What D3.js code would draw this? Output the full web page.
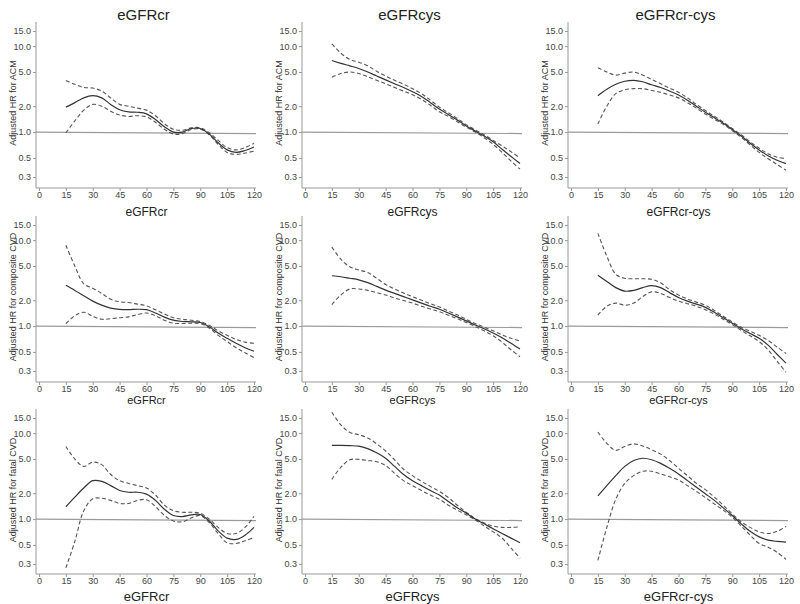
<!DOCTYPE html>
<html><head><meta charset="utf-8">
<script src="https://cdn.jsdelivr.net/npm/d3@7"></script>
<style>body{margin:0;background:#fff}svg{display:block}</style>
</head><body><svg id="c" width="800" height="604"></svg>
<script>
const xGrid = [15,20,25,30,35,40,45,50,55,60,65,70,75,80,85,90,95,100,105,110,115,120];
const xTicks = [0,15,30,45,60,75,90,105,120];
const yTicks = [0.3,0.5,1.0,2.0,5.0,10.0,15.0];
const colNames = ["eGFRcr","eGFRcys","eGFRcr-cys"];
const outcomes = ["ACM","composite CVD","fatal CVD"];

// Row 1: ACM
const acmCrMid = [1.95,2.2,2.5,2.65,2.5,2.1,1.82,1.72,1.7,1.63,1.4,1.15,1.0,1.0,1.1,1.1,0.95,0.75,0.62,0.58,0.61,0.67];
const acmCrHi  = [3.97,3.6,3.3,3.25,3.0,2.5,2.1,2.0,1.9,1.8,1.55,1.25,1.08,1.05,1.12,1.12,0.98,0.8,0.66,0.62,0.66,0.74];
const acmCrLo  = [0.98,1.35,1.8,2.1,2.0,1.75,1.58,1.52,1.55,1.5,1.3,1.08,0.95,0.96,1.07,1.08,0.93,0.72,0.58,0.55,0.57,0.6];
const acmCysMid = [6.8,6.3,5.9,5.5,5.0,4.5,4.05,3.65,3.3,2.95,2.6,2.2,1.85,1.6,1.38,1.18,1.03,0.9,0.77,0.63,0.52,0.43];
const acmCysHi  = [10.6,8.3,7.0,6.5,5.9,5.1,4.5,4.0,3.6,3.2,2.8,2.35,1.95,1.68,1.44,1.22,1.06,0.93,0.8,0.69,0.59,0.5];
const acmCysLo  = [4.35,4.8,5.0,4.8,4.4,4.0,3.65,3.3,3.0,2.72,2.4,2.05,1.72,1.52,1.32,1.14,1.0,0.86,0.72,0.58,0.46,0.37];
const acmCrCysMid = [2.65,3.15,3.6,3.9,4.0,3.85,3.55,3.3,3.0,2.7,2.35,2.0,1.7,1.47,1.27,1.07,0.9,0.74,0.62,0.53,0.47,0.43];
const acmCrCysHi  = [5.6,5.0,4.6,4.85,5.0,4.6,4.1,3.65,3.25,2.9,2.5,2.1,1.78,1.53,1.31,1.1,0.93,0.77,0.65,0.56,0.51,0.49];
const acmCrCysLo  = [1.24,2.0,2.8,3.1,3.2,3.2,3.05,2.9,2.7,2.5,2.2,1.9,1.62,1.41,1.23,1.04,0.87,0.71,0.58,0.49,0.42,0.36];
// Row 2: composite CVD
const compCrMid = [2.98,2.6,2.25,1.95,1.75,1.62,1.56,1.55,1.57,1.55,1.42,1.27,1.17,1.13,1.12,1.1,0.98,0.83,0.72,0.63,0.56,0.51];
const compCrHi  = [8.7,5.0,3.1,2.75,2.4,2.05,1.92,1.88,1.8,1.72,1.55,1.38,1.25,1.2,1.17,1.13,1.02,0.88,0.78,0.7,0.65,0.63];
const compCrLo  = [1.07,1.32,1.45,1.3,1.2,1.22,1.25,1.28,1.36,1.42,1.32,1.17,1.08,1.07,1.08,1.07,0.95,0.78,0.66,0.56,0.49,0.43];
const compCysMid = [3.85,3.75,3.6,3.45,3.2,2.9,2.62,2.4,2.2,2.02,1.85,1.7,1.57,1.42,1.28,1.15,1.03,0.93,0.83,0.73,0.63,0.54];
const compCysHi  = [8.3,6.0,4.9,4.5,4.2,3.6,3.05,2.7,2.42,2.2,2.0,1.82,1.67,1.5,1.35,1.2,1.07,0.97,0.88,0.79,0.72,0.67];
const compCysLo  = [1.78,2.3,2.7,2.7,2.6,2.45,2.3,2.12,1.98,1.85,1.7,1.58,1.47,1.34,1.22,1.1,0.99,0.88,0.77,0.65,0.53,0.44];
const compCrCysMid = [3.9,3.3,2.8,2.55,2.6,2.8,2.95,2.8,2.45,2.15,1.95,1.8,1.65,1.45,1.25,1.08,0.93,0.82,0.72,0.6,0.47,0.37];
const compCrCysHi  = [12.0,6.5,4.0,3.6,3.55,3.55,3.5,3.2,2.65,2.3,2.07,1.9,1.75,1.52,1.3,1.12,0.97,0.87,0.78,0.68,0.57,0.48];
const compCrCysLo  = [1.34,1.7,1.85,1.75,1.85,2.2,2.5,2.4,2.15,1.95,1.82,1.7,1.55,1.38,1.2,1.04,0.89,0.77,0.66,0.53,0.39,0.29];
// Row 3: fatal CVD
const fatalCrMid = [1.39,1.8,2.3,2.8,2.75,2.45,2.15,2.05,2.05,1.95,1.65,1.3,1.1,1.07,1.12,1.13,0.95,0.73,0.6,0.58,0.65,0.8];
const fatalCrHi  = [7.0,5.0,4.1,4.6,4.3,3.3,2.8,2.6,2.45,2.3,1.9,1.45,1.25,1.2,1.2,1.17,1.0,0.8,0.68,0.68,0.8,1.08];
const fatalCrLo  = [0.27,0.55,1.25,1.72,1.75,1.65,1.52,1.52,1.65,1.68,1.4,1.1,0.95,0.93,1.03,1.1,0.91,0.68,0.53,0.52,0.56,0.61];
const fatalCysMid = [7.2,7.2,7.15,7.05,6.6,5.9,5.1,4.1,3.3,2.8,2.45,2.15,1.9,1.6,1.35,1.17,1.0,0.88,0.77,0.68,0.6,0.53];
const fatalCysHi  = [17.5,12.5,10.2,9.6,8.8,7.5,6.2,4.9,3.8,3.2,2.75,2.4,2.1,1.78,1.45,1.2,1.02,0.9,0.83,0.8,0.8,0.81];
const fatalCysLo  = [2.9,4.0,4.9,4.95,4.8,4.65,4.2,3.4,2.8,2.45,2.15,1.9,1.7,1.45,1.27,1.12,0.98,0.83,0.71,0.6,0.46,0.35];
const fatalCrCysMid = [1.86,2.45,3.2,4.1,4.8,5.1,4.9,4.45,3.9,3.35,2.8,2.35,1.97,1.65,1.35,1.1,0.88,0.72,0.62,0.57,0.55,0.54];
const fatalCrCysHi  = [10.3,7.6,6.3,7.0,7.5,7.1,6.4,5.7,4.8,3.9,3.2,2.6,2.2,1.8,1.45,1.15,0.93,0.8,0.71,0.68,0.72,0.82];
const fatalCrCysLo  = [0.33,0.8,1.7,2.6,3.2,3.6,3.6,3.35,3.1,2.85,2.45,2.1,1.78,1.5,1.27,1.05,0.83,0.65,0.52,0.47,0.41,0.34];

const panels = [
  [[acmCrMid,acmCrHi,acmCrLo],[acmCysMid,acmCysHi,acmCysLo],[acmCrCysMid,acmCrCysHi,acmCrCysLo]],
  [[compCrMid,compCrHi,compCrLo],[compCysMid,compCysHi,compCysLo],[compCrCysMid,compCrCysHi,compCrCysLo]],
  [[fatalCrMid,fatalCrHi,fatalCrLo],[fatalCysMid,fatalCysHi,fatalCysLo],[fatalCrCysMid,fatalCrCysHi,fatalCrCysLo]]
];

const svg = d3.select("#c");
const colX0 = [39, 305, 571];
const rowTop = [31, 225, 418];
const axisOff = [157, 157, 156];
const plotW = 215, plotH = 146;
const font = "Arial, 'Liberation Sans', sans-serif";
const xLabelSize = [12, 11, 13];
const xLabelY = [216, 404, 601];

for (let r = 0; r < 3; r++) {
  for (let c = 0; c < 3; c++) {
    const x0 = colX0[c], top = rowTop[r];
    const x = d3.scaleLinear().domain([0,120]).range([x0, x0+plotW]);
    const y = d3.scaleLog().domain([0.3,15]).range([top+plotH, top]);
    const g = svg.append("g");
    const axisY = top + axisOff[r];
    g.append("line").attr("x1", x0-3).attr("x2", x0-3).attr("y1", top-9).attr("y2", axisY)
      .attr("stroke", "#999").attr("stroke-width", 1);
    g.append("line").attr("x1", x0-3).attr("x2", x0+plotW+2).attr("y1", axisY).attr("y2", axisY)
      .attr("stroke", "#999").attr("stroke-width", 1);
    const xa = d3.axisBottom(x).tickValues(xTicks).tickSize(3).tickPadding(1).tickFormat(d3.format("d"));
    const gx = g.append("g").attr("transform", `translate(0,${axisY})`).call(xa);
    gx.select(".domain").remove();
    gx.selectAll("line").attr("stroke", "#999");
    gx.selectAll("text").attr("fill", "#444").style("font-size", "9px").style("font-family", font);
    const ya = d3.axisLeft(y).tickValues(yTicks).tickSize(3).tickPadding(2).tickFormat(d3.format(".1f"));
    const gy = g.append("g").attr("transform", `translate(${x0-3},0)`).call(ya);
    gy.select(".domain").remove();
    gy.selectAll("line").attr("stroke", "#999");
    gy.selectAll("text").attr("fill", "#444").style("font-size", "9px").style("font-family", font);
    g.append("text").attr("transform", `translate(${x0-26},${top+72}) rotate(-90)`)
      .attr("text-anchor", "middle").attr("dy", "0.35em")
      .style("font-size", "9px").style("font-family", font).attr("fill", "#333")
      .text("Adjusted HR for " + outcomes[r]);
    g.append("line").attr("x1", x0-3).attr("x2", x0+plotW+2).attr("y1", y(1)).attr("y2", y(1)+1.5)
      .attr("stroke", "#9a9a9a").attr("stroke-width", 1.2);
    const [mid, hi, lo] = panels[r][c];
    const line = d3.line().x((d,i) => x(xGrid[i])).y(d => y(d)).curve(d3.curveCatmullRom.alpha(0.5));
    [hi, lo].forEach(arr => {
      g.append("path").attr("d", line(arr)).attr("fill", "none")
        .attr("stroke", "#555").attr("stroke-width", 1.1).attr("stroke-dasharray", "4,2.5");
    });
    g.append("path").attr("d", line(mid)).attr("fill", "none")
      .attr("stroke", "#333").attr("stroke-width", 1.2);
    g.append("text").attr("x", x0 + plotW/2).attr("y", xLabelY[r]).attr("text-anchor", "middle")
      .style("font-size", xLabelSize[r] + "px").style("font-family", font).attr("fill", "#222")
      .text(colNames[c]);
    if (r === 0) {
      g.append("text").attr("x", x0 + plotW/2 - 3).attr("y", 20).attr("text-anchor", "middle")
        .style("font-size", "15px").style("font-weight", "normal").style("font-family", font).attr("fill", "#222")
        .text(colNames[c]);
    }
  }
}
</script></body></html>
